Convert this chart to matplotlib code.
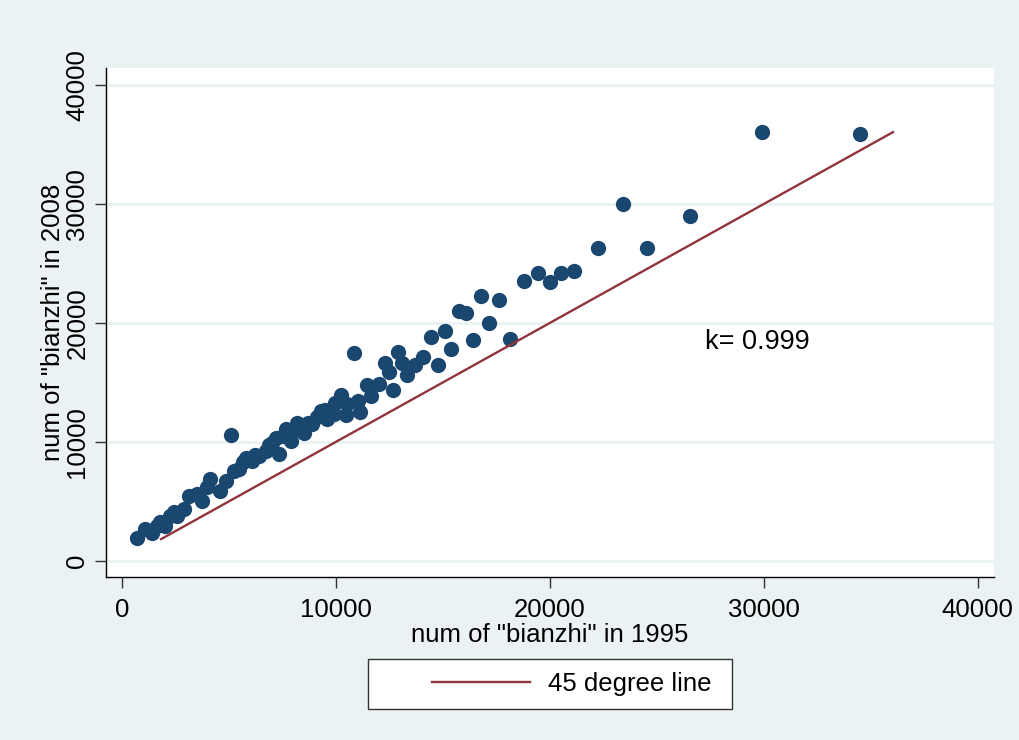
import matplotlib.pyplot as plt
from matplotlib.legend_handler import HandlerLine2D

plt.rcParams['font.family'] = ['Liberation Sans', 'DejaVu Sans']

# num of "bianzhi" per unit, 1995 vs 2008
bz_1995 = [716, 1108, 1417, 1637, 1810, 2044, 2278, 2432, 2587, 2900,
           3134, 3522, 3756, 3976, 4149, 4616, 4850, 5084, 5239, 5472,
           5659, 5786, 6094, 6221, 6408, 6721, 6876, 7030, 7189, 7343,
           7530, 7657, 7891, 8092, 8199, 8513, 8700, 8901, 9121, 9294,
           9495, 9602, 9729, 9916, 9950, 10270, 10490, 10538, 10850, 11020,
           11150, 11440, 11650, 12010, 12280, 12510, 12690, 12900, 13080, 13350,
           13710, 14070, 14440, 14780, 15090, 15390, 15770, 16070, 16430, 16790,
           17170, 17630, 18150, 18790, 19440, 19990, 20550, 21150, 22260, 23430,
           24540, 26540, 29940, 34510]
bz_2008 = [1928, 2682, 2347, 2934, 3244, 2959, 3797, 4107, 3797, 4359,
           5474, 5616, 5054, 6203, 6873, 5893, 6731, 10562, 7569, 7712,
           8299, 8692, 8407, 8885, 8827, 9246, 9724, 9950, 10369, 8969,
           10478, 11065, 10084, 11065, 11626, 10788, 11568, 11484, 12070, 12599,
           12657, 11903, 12406, 12322, 13300, 13920, 12240, 13160, 17520, 13440,
           12550, 14750, 13860, 14890, 16660, 15870, 14360, 17550, 16660, 15650,
           16460, 17160, 18810, 16490, 19340, 17830, 21040, 20850, 18610, 22300,
           19980, 21940, 18670, 23530, 24230, 23450, 24170, 24390, 26320, 30010,
           26320, 29010, 36075, 35910]

line_x = [1840, 36040]
line_y = [1840, 36040]

navy = '#1A476F'
maroon = '#90353B'
bg = '#EAF2F3'
fs = 18.5

fig = plt.figure(figsize=(10.19, 7.40), dpi=100, facecolor=bg)
ax = fig.add_axes([106 / 1019, 163 / 740, 888 / 1019, 509 / 740])
ax.set_facecolor('white')

ax.plot(bz_1995, bz_2008, 'o', color=navy, markersize=11, markeredgewidth=0,
        zorder=3)
ax.plot(line_x, line_y, color=maroon, linewidth=1.7, zorder=4,
        label='45 degree line')
ax.text(27260, 18400, 'k= 0.999', fontsize=19.5, va='center', ha='left')

ax.set_xlim(-734, 40760)
ax.set_ylim(-1345, 41430)
ticks = [0, 10000, 20000, 30000, 40000]
ax.set_xticks(ticks)
ax.set_yticks(ticks)
ax.set_xticklabels([str(t) for t in ticks], fontsize=fs)
ax.set_yticklabels([str(t) for t in ticks], fontsize=fs, rotation=90,
                   va='center')
ax.tick_params(axis='both', length=8, width=1, color='#333333')
ax.tick_params(axis='x', pad=7)
ax.tick_params(axis='y', pad=4)
ax.grid(axis='y', color=bg, linewidth=2)
ax.set_axisbelow(True)

for s in ['top', 'right']:
    ax.spines[s].set_visible(False)
for s in ['left', 'bottom']:
    ax.spines[s].set_color('black')
    ax.spines[s].set_linewidth(1)

ax.set_xlabel('num of "bianzhi" in 1995', fontsize=fs, labelpad=1)
ax.set_ylabel('num of "bianzhi" in 2008', fontsize=fs, labelpad=0)

# legend box spans 368..732 px, line sample 432..530 px
em = fs * 100 / 72
leg = fig.legend(loc='center',
                 bbox_to_anchor=(368 / 1019, 32 / 740, 364 / 1019, 48 / 740),
                 mode='expand', fontsize=fs,
                 handlelength=(530 - 368 - 0.5 * em) / em,
                 handletextpad=0.72, borderpad=0.5, fancybox=False,
                 framealpha=1, edgecolor='#333333', borderaxespad=0,
                 handler_map={plt.Line2D: HandlerLine2D(
                     xpad=(432 - 368 - 0.5 * em) / em)})
leg.get_frame().set_linewidth(1)

fig.savefig('out.png', dpi=100, facecolor=bg)
